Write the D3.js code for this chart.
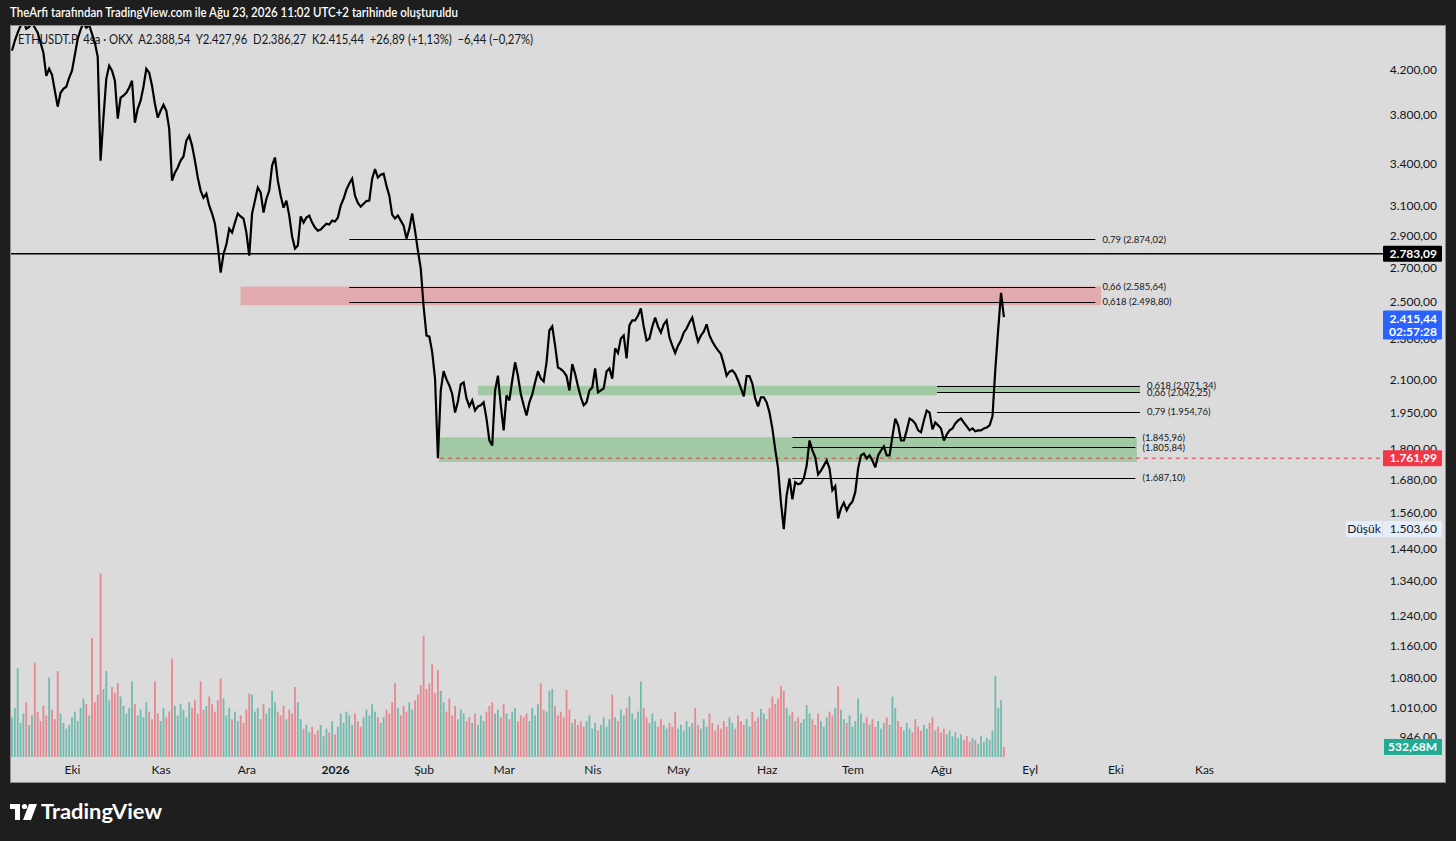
<!DOCTYPE html>
<html><head><meta charset="utf-8">
<script src="https://cdn.jsdelivr.net/npm/d3@7"></script>
<style>
html,body{margin:0;padding:0;background:#1e1e1e;}
svg{display:block;font-family:Lato,"Noto Sans",sans-serif;}
</style></head><body>
<svg id="c" width="1456" height="841"></svg>
<script>
// ---------- DATA ----------
const startDate = [2025, 8, 10]; // first daily close: 10 Sep 2025
const closes = [
4379,4478,4560,4630,4683,4600,4620,4662,4610,4560,
4458,4360,4140,4207,4150,4005,3865,3987,4023,4041,
4123,4188,4340,4498,4590,4662,4610,4640,4548,4458,
4320,3426,3771,4114,4235,4188,4096,3763,3943,3961,
3987,4032,4096,3729,3848,3917,4041,4207,4170,4050,
3891,3771,3830,3882,3830,3680,3276,3335,3374,3426,
3458,3582,3623,3543,3426,3299,3204,3153,3182,3098,
3044,2976,2832,2668,2780,2840,2943,2917,2983,3044,
3024,3010,2917,2771,3044,3133,3226,3190,3051,3146,
3204,3388,3450,3276,3168,3084,3133,3030,2892,2815,
2834,3024,2983,3017,3030,2983,2950,2930,2937,2957,
2976,2970,2996,2990,3017,3098,3146,3211,3255,3291,
3168,3117,3091,3111,3130,3133,3291,3362,3299,3320,
3328,3240,3168,3037,3010,3030,2996,2963,2878,2943,
3044,2930,2802,2692,2473,2318,2312,2233,2105,1762,
2050,2140,2101,2073,2034,1951,2000,2078,2087,2014,
1978,2005,1960,1978,1983,1996,1925,1833,1813,2050,
2119,1983,1875,2028,2005,2096,2183,2117,2034,1983,
1938,1996,2032,2087,2140,2105,2092,2183,2344,2365,
2266,2158,2150,2138,2117,2050,2174,2128,2069,2019,
1983,1996,2050,2064,2153,2041,2050,2059,2138,2153,
2105,2252,2229,2302,2318,2202,2372,2397,2397,2423,
2462,2364,2292,2302,2364,2413,2364,2333,2376,2397,
2307,2266,2229,2266,2292,2333,2354,2386,2413,2344,
2287,2318,2338,2376,2318,2287,2262,2242,2224,2174,
2119,2138,2144,2128,2096,2059,2023,2117,2117,2082,
2014,1978,2019,2019,1996,1951,1883,1797,1722,1596,
1503.6,1622,1684,1607,1670,1662,1666,1684,1733,1833,
1793,1765,1699,1714,1733,1753,1722,1640,1655,1540,
1575,1595,1568,1587,1599,1633,1722,1773,1780,1761,
1773,1753,1726,1773,1793,1809,1773,1773,1850,1925,
1896,1833,1833,1875,1925,1917,1904,1875,1867,1917,
1960,1951,1879,1908,1896,1883,1833,1858,1875,1883,
1904,1917,1925,1908,1892,1875,1883,1871,1875,1875,
1883,1887,1896,1935,2150,2350,2550,2415.44
];
const volumes = [ // millions
2100,2600,4700,1800,2300,2900,1700,2200,5000,2400,
1900,2700,2200,4200,2500,2000,4550,2300,1800,1500,
1700,2100,2400,1900,2600,3100,2800,2200,6300,2900,
3300,9700,3600,4550,3000,3700,3400,3900,3200,2700,
2300,2600,4000,2800,2200,2500,2100,2900,2400,2000,
4000,2300,1900,2600,2100,2400,5200,2700,2200,2800,
2500,2100,2900,2600,3000,2300,4000,2500,2700,3200,
2800,2400,3000,4150,3100,2200,2600,2000,2400,1900,
2200,1800,2500,3350,3300,2400,2600,2000,2800,2300,
2600,3500,2900,2400,2200,2700,2000,2500,2300,3700,
2900,2000,1500,1700,1300,1600,1200,1400,1700,1100,
1500,1300,1900,1200,1600,2300,1800,2400,2200,1700,
2300,1900,1600,2100,2500,2200,2800,2400,2100,1800,
2100,2500,2300,2900,3900,2600,2200,2700,2400,2900,
2500,3000,3300,3800,6400,3600,3900,4900,3400,4600,
3500,2900,2400,3100,2200,2700,2000,2500,2300,1900,
2100,1800,2300,1700,2200,1900,2400,2700,2900,2300,
2500,2100,2800,2300,2000,2400,2600,1900,2200,2100,
2300,1900,2600,2200,2800,3900,2500,2400,3500,3600,
2700,2200,2400,2100,3550,2500,1800,2000,1700,1900,
1600,1900,2200,1500,1800,1400,1700,2100,1600,2000,
3300,2100,1900,2500,2200,2600,3200,2300,2000,2400,
4000,2600,2100,1800,2300,1900,1600,2000,1700,1500,
1800,1600,2400,1500,1700,1400,1900,1600,1800,2600,
1700,1500,2000,1600,2300,1800,1400,1700,1500,1900,
1600,2100,1800,1500,2200,1900,1700,2000,1600,2400,
1900,2100,2550,2300,2000,2600,3200,2800,3100,3750,
3500,2600,2200,2400,1900,2100,1800,2000,2750,2300,
2000,1700,2300,1900,1600,2100,2400,2200,2600,3750,
2500,2000,1800,2200,1600,1900,3100,2300,1800,2100,
1700,2000,1600,1900,1500,1800,2100,1700,3200,2600,
1900,1600,1400,1800,1500,1300,2000,1600,1400,1700,
1500,1800,2100,1400,1600,1300,1500,1200,1400,1100,
1300,1000,1200,900,1100,800,1000,900,700,1100,
800,1000,900,1400,4300,2600,3000,532.68
];
const monthTicks = ["2025-10-01","2025-11-01","2025-12-01","2026-01-01","2026-02-01","2026-03-01","2026-04-01","2026-05-01","2026-06-01","2026-07-01","2026-08-01","2026-09-01","2026-10-01","2026-11-01"];
const monthNames = ["Oca","Şub","Mar","Nis","May","Haz","Tem","Ağu","Eyl","Eki","Kas","Ara"];
const priceTicks = [4200,3800,3400,3100,2900,2700,2500,2300,2100,1950,1800,1680,1560,1440,1340,1240,1160,1080,1010,946];
const zones = [
  {top:2585.64, bottom:2480, from:"2025-11-29", to:"2026-09-26", color:"rgba(242,54,69,0.30)"},
  {top:2071.34, bottom:2028, from:"2026-02-20", to:"2026-07-30T14:00", color:"rgba(76,175,80,0.40)"},
  {top:2071.34, bottom:2042.25, from:"2026-07-30T14:00", to:"2026-10-09T14:00", color:"rgba(76,175,80,0.40)"},
  {top:1845.96, bottom:1747, from:"2026-02-06T10:00", to:"2026-10-08T12:00", color:"rgba(76,175,80,0.40)"}
];
const fibLines = [
  {price:2874.02, label:"0,79 (2.874,02)", from:"2026-01-06", to:"2026-09-24"},
  {price:2585.64, label:"0,66 (2.585,64)", from:"2026-01-06", to:"2026-09-24"},
  {price:2498.80, label:"0,618 (2.498,80)", from:"2026-01-06", to:"2026-09-24"},
  {price:2071.34, label:"0,618 (2.071,34)", from:"2026-07-30T14:00", to:"2026-10-09T14:00"},
  {price:2042.25, label:"0,66 (2.042,25)", from:"2026-07-30T14:00", to:"2026-10-09T14:00"},
  {price:1954.76, label:"0,79 (1.954,76)", from:"2026-07-30T14:00", to:"2026-10-09T14:00"},
  {price:1845.96, label:"(1.845,96)", from:"2026-06-10", to:"2026-10-08"},
  {price:1805.84, label:"(1.805,84)", from:"2026-06-10", to:"2026-10-08"},
  {price:1687.10, label:"(1.687,10)", from:"2026-06-10", to:"2026-10-08"}
];
const hLine = 2783.09;
const lowLine = {price:1761.99, from:"2026-02-06T16:00"};
const lastPrice = 2415.44, countdown = "02:57:28";
const rangeLow = 1503.60;
const lastVolume = 532.68;
const headerText = "TheArfi tarafından TradingView.com ile Ağu 23, 2026 11:02 UTC+2 tarihinde oluşturuldu";
const legendText = "ETHUSDT.P  4sa · OKX  A2.388,54  Y2.427,96  D2.386,27  K2.415,44  +26,89 (+1,13%)  −6,44 (−0,27%)";

// ---------- SETUP ----------
const svg = d3.select("#c");
const W = 1456, H = 841;
const P = {l:10, r:1446, t:25, b:783, plotB:757};
const tr = d3.formatLocale({decimal:",", thousands:".", grouping:[3], currency:["",""]});
const fmt = tr.format(",.2f");
const pd = s => { const [a,b] = s.split("T"); const [yy,m,d] = a.split("-").map(Number); let h=0,mi=0; if(b){[h,mi]=b.split(":").map(Number);} return new Date(yy,m-1,d,h,mi); };

const x = d3.scaleTime().domain([new Date(2025,8,9,7,28), new Date(2027,0,24,15,36)]).range([P.l, P.r]);
const y = d3.scaleLog().domain([903.6, 4639]).range([P.plotB, P.t]);
const yv = d3.scaleLinear().domain([0, 10000]).range([P.plotB, 568]);

const data = closes.map((c,i)=>({d:new Date(startDate[0],startDate[1],startDate[2]+i), c, v:volumes[i], up: i===0 ? true : c>=closes[i-1]}));

// background
svg.append("rect").attr("width",W).attr("height",H).attr("fill","#1e1e1e");
svg.append("rect").attr("x",P.l+0.5).attr("y",P.t+0.5).attr("width",P.r-P.l-1).attr("height",P.b-P.t-1)
  .attr("fill","#dbdbdb").attr("stroke","#8e8e8e");

svg.append("defs").append("clipPath").attr("id","clip").append("rect")
  .attr("x",P.l+1).attr("y",P.t+1).attr("width",P.r-P.l-2).attr("height",P.plotB-P.t-1);

// header
svg.append("text").attr("x",10).attr("y",17).attr("fill","#ffffff").attr("font-size",12.5).attr("font-weight",600)
  .attr("textLength",448).attr("lengthAdjust","spacingAndGlyphs").text(headerText);

// y axis labels
const yAxis = d3.axisLeft(y).tickValues(priceTicks).tickFormat(fmt).tickSizeInner(0).tickSizeOuter(0).tickPadding(0);
const ga = svg.append("g").attr("transform","translate(1437,0)").call(yAxis);
ga.select(".domain").remove();
ga.selectAll("text").attr("fill","#131722").attr("font-size",12).attr("font-family","Lato,'Noto Sans',sans-serif");

// x axis
const xAxis = d3.axisBottom(x).tickValues(monthTicks.map(pd))
  .tickFormat(d => d.getMonth()===0 ? String(d.getFullYear()) : monthNames[d.getMonth()])
  .tickSizeInner(0).tickSizeOuter(0).tickPadding(8);
const gx = svg.append("g").attr("transform",`translate(0,${P.plotB})`).call(xAxis);
gx.select(".domain").remove();
gx.selectAll("text").attr("fill","#131722").attr("font-size",12).attr("font-family","Lato,'Noto Sans',sans-serif")
  .attr("font-weight", d => d.getMonth()===0 ? 700 : 400);

// legend
svg.append("text").attr("x",18).attr("y",44).attr("fill","#131722").attr("font-size",12.5)
  .style("white-space","pre").attr("textLength",515).attr("lengthAdjust","spacingAndGlyphs").text(legendText);

const plot = svg.append("g").attr("clip-path","url(#clip)");

// volume
plot.append("g").selectAll("rect").data(data).join("rect")
  .attr("x", d => x(d.d) - 0.9).attr("width", 1.8)
  .attr("y", d => yv(d.v)).attr("height", d => P.plotB - yv(d.v))
  .attr("fill", d => d.up ? "rgba(8,153,129,0.5)" : "rgba(242,54,69,0.5)");

// zones
plot.append("g").selectAll("rect").data(zones).join("rect")
  .attr("x", d => x(pd(d.from))).attr("width", d => x(pd(d.to)) - x(pd(d.from)))
  .attr("y", d => y(d.top)).attr("height", d => y(d.bottom) - y(d.top))
  .attr("fill", d => d.color);

// horizontal line 2783.09
plot.append("line").attr("x1",P.l).attr("x2",1383).attr("y1",y(hLine)).attr("y2",y(hLine))
  .attr("stroke","#000").attr("stroke-width",1.5);

// red dashed low line
plot.append("line").attr("x1",x(pd(lowLine.from))).attr("x2",1383).attr("y1",y(lowLine.price)).attr("y2",y(lowLine.price))
  .attr("stroke","#f23645").attr("stroke-width",1).attr("stroke-dasharray","4,4");

// fib lines
const fg = svg.append("g");
fg.selectAll("line").data(fibLines).join("line")
  .attr("x1", d => x(pd(d.from))).attr("x2", d => x(pd(d.to)))
  .attr("y1", d => Math.round(y(d.price))+0.5).attr("y2", d => Math.round(y(d.price))+0.5)
  .attr("stroke","#000").attr("stroke-width",1.2);
fg.selectAll("text").data(fibLines).join("text")
  .attr("x", d => x(pd(d.to)) + 7).attr("y", d => y(d.price) + 3.5)
  .attr("fill","#131722").attr("font-size",9.5).text(d => d.label);

// price line
plot.append("path").datum(data)
  .attr("d", d3.line().x(d => x(d.d)).y(d => y(d.c)).curve(d3.curveLinear))
  .attr("fill","none").attr("stroke","#000").attr("stroke-width",2.2).attr("stroke-linejoin","miter").attr("stroke-miterlimit",3);

// tags
function tag(yc, lines, bg, fg, x0=1383, w=59, h=16, bold=true){
  const g = svg.append("g");
  const hh = h*lines.length - (lines.length-1)*3;
  g.append("rect").attr("x",x0).attr("y",yc-hh/2).attr("width",w).attr("height",hh).attr("fill",bg).attr("rx",1);
  lines.forEach((t,i)=>{
    g.append("text").attr("x",1437).attr("y",yc-hh/2 + 12 + i*13).attr("text-anchor","end")
      .attr("fill",fg).attr("font-size",12).attr("font-weight",bold?700:400).text(t);
  });
  return g;
}
tag(y(hLine), [fmt(hLine)], "#000000", "#ffffff");
tag(y(lastPrice)+8, [fmt(lastPrice), countdown], "#2962ff", "#ffffff");
tag(y(lowLine.price), [fmt(lowLine.price)], "#f23645", "#ffffff");
// low-of-range tag
const ly = y(rangeLow);
svg.append("rect").attr("x",1346).attr("y",ly-8).attr("width",96).attr("height",16).attr("fill","#e6eefb");
svg.append("line").attr("x1",1382.5).attr("x2",1382.5).attr("y1",ly-8).attr("y2",ly+8).attr("stroke","#dbdbdb");
svg.append("text").attr("x",1364).attr("y",ly+4).attr("text-anchor","middle").attr("fill","#131722").attr("font-size",12).text("Düşük");
svg.append("text").attr("x",1437).attr("y",ly+4).attr("text-anchor","end").attr("fill","#131722").attr("font-size",12).text(fmt(rangeLow));
// volume tag
const vy = Math.min(yv(lastVolume), P.plotB-8);
svg.append("rect").attr("x",1384).attr("y",vy-8).attr("width",58).attr("height",16).attr("fill","#22ab94");
svg.append("text").attr("x",1437).attr("y",vy+4).attr("text-anchor","end").attr("fill","#fff").attr("font-size",12).attr("font-weight",700)
  .text(tr.format(",.2f")(lastVolume) + "M");

// TradingView logo
const lg = svg.append("g").attr("fill","#ffffff");
lg.append("path").attr("d","M10,804 H20 V820 H15 V809 H10 Z");
lg.append("circle").attr("cx",24.5).attr("cy",806.5).attr("r",2.6);
lg.append("path").attr("d","M29,804 H37 L31,820 H23 Z");
lg.append("text").attr("x",41).attr("y",819).attr("font-size",20).attr("font-weight",700)
  .attr("textLength",121).attr("lengthAdjust","spacingAndGlyphs").text("TradingView");
</script>
</body></html>
